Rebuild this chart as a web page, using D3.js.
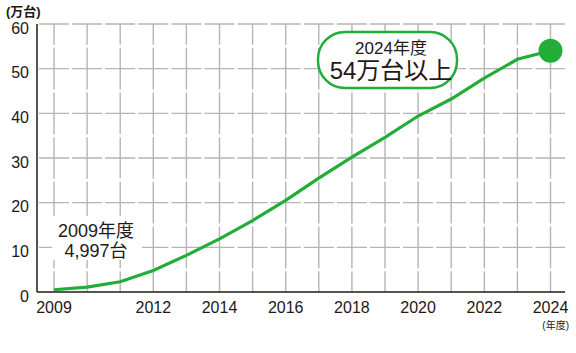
<!DOCTYPE html>
<html>
<head>
<meta charset="utf-8">
<script src="https://cdn.jsdelivr.net/npm/d3@7"></script>
<style>
  body { margin: 0; background: #fff; }
  text { font-family: "Liberation Sans", "Noto Sans CJK JP", sans-serif; fill: #231815; }
</style>
</head>
<body>
<svg id="canvas" width="576" height="353"></svg>
<script>
/********** Data **********/
var years = [2009, 2010, 2011, 2012, 2013, 2014, 2015, 2016, 2017, 2018, 2019, 2020, 2021, 2022, 2023, 2024];
var units = [0.5, 1.1, 2.3, 4.8, 8.2, 11.9, 16.0, 20.5, 25.5, 30.2, 34.6, 39.4, 43.2, 47.9, 52.1, 54.0];
var xTickYears = [2009, 2012, 2014, 2016, 2018, 2020, 2022, 2024];
var yTicks = [0, 10, 20, 30, 40, 50, 60];

/********** Setup **********/
var svg = d3.select("#canvas");
var green = "#22ac38";
var plotLeft = 37, plotRight = 565, plotTop = 24, plotBottom = 292;

var x = d3.scaleLinear().domain([2009, 2024]).range([54, 550.5]);
var y = d3.scaleLinear().domain([0, 60]).range([plotBottom, plotTop]);

var stepX = x(2010) - x(2009);
var stepY = y(0) - y(10);

/********** Grid **********/
var grid = svg.append("g").attr("stroke", "#b5b5b5").attr("stroke-width", 1.4);

// horizontal lines, broken midway between years
grid.selectAll("line.h")
  .data(yTicks.filter(function(d) { return d > 0; }))
  .enter().append("line")
  .attr("x1", plotLeft).attr("x2", plotRight)
  .attr("y1", function(d) { return y(d); })
  .attr("y2", function(d) { return y(d); })
  .attr("stroke-dasharray", (stepX - 3) + "," + 3)
  .attr("stroke-dashoffset", stepX - ((x(2009) + stepX / 2 + 1.5) - plotLeft));

// vertical lines, broken midway between tens
grid.selectAll("line.v")
  .data(years)
  .enter().append("line")
  .attr("x1", function(d) { return x(d); })
  .attr("x2", function(d) { return x(d); })
  .attr("y1", plotTop).attr("y2", plotBottom)
  .attr("stroke-dasharray", (stepY - 3) + "," + 3)
  .attr("stroke-dashoffset", stepY - (stepY / 2 + 1.5));

/********** Axes **********/
svg.append("line")
  .attr("x1", plotLeft).attr("x2", plotLeft).attr("y1", plotTop).attr("y2", plotBottom)
  .attr("stroke", "#231815").attr("stroke-width", 1.5);
svg.append("line")
  .attr("x1", plotLeft).attr("x2", plotRight).attr("y1", plotBottom).attr("y2", plotBottom)
  .attr("stroke", "#231815").attr("stroke-width", 1.5);

svg.selectAll("text.ytick")
  .data(yTicks)
  .enter().append("text")
  .attr("x", 29)
  .attr("y", function(d) { return y(d) + 9.5; })
  .attr("text-anchor", "end")
  .attr("font-size", 16)
  .text(function(d) { return d; });

svg.selectAll("text.xtick")
  .data(xTickYears)
  .enter().append("text")
  .attr("x", function(d) { return x(d); })
  .attr("y", 313)
  .attr("text-anchor", "middle")
  .attr("font-size", 16)
  .text(function(d) { return d; });

svg.append("text")
  .attr("x", 6).attr("y", 16)
  .attr("font-size", 13).attr("font-weight", "bold")
  .attr("font-family", "Noto Sans CJK JP")
  .text("(万台)");

svg.append("text")
  .attr("x", 569).attr("y", 329)
  .attr("text-anchor", "end")
  .attr("font-size", 10)
  .attr("font-family", "Noto Sans CJK JP")
  .text("(年度)");

/********** Line **********/
var line = d3.line()
  .x(function(d, i) { return x(years[i]); })
  .y(function(d) { return y(d); });

// 2009 label with white backing
svg.append("rect")
  .attr("x", 52).attr("y", 216).attr("width", 90).attr("height", 44)
  .attr("fill", "#fff");
svg.append("text")
  .attr("x", 96).attr("y", 237)
  .attr("text-anchor", "middle").attr("font-size", 18)
  .text("2009年度");
svg.append("text")
  .attr("x", 96).attr("y", 257)
  .attr("text-anchor", "middle").attr("font-size", 18)
  .text("4,997台");

svg.append("path")
  .datum(units)
  .attr("d", line)
  .attr("fill", "none")
  .attr("stroke", green)
  .attr("stroke-width", 3.2);

svg.append("circle")
  .attr("cx", x(2024))
  .attr("cy", y(units[units.length - 1]))
  .attr("r", 12)
  .attr("fill", green);

/********** Callout **********/
svg.append("rect")
  .attr("x", 318).attr("y", 32).attr("width", 139).attr("height", 56)
  .attr("rx", 27)
  .attr("fill", "#fff")
  .attr("stroke", green).attr("stroke-width", 2.5);
svg.append("text")
  .attr("x", 391).attr("y", 54)
  .attr("text-anchor", "middle").attr("font-size", 17)
  .text("2024年度");
svg.append("text")
  .attr("x", 391).attr("y", 79)
  .attr("text-anchor", "middle").attr("font-size", 24)
  .text("54万台以上");
</script>
</body>
</html>
